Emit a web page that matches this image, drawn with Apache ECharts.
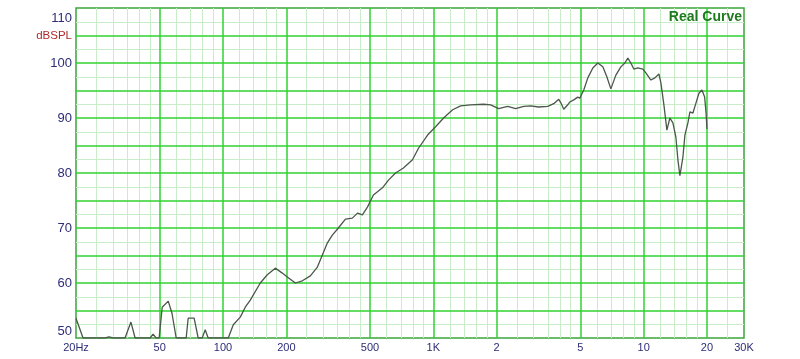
<!DOCTYPE html>
<html>
<head>
<meta charset="utf-8">
<script src="https://cdn.jsdelivr.net/npm/echarts@6/dist/echarts.min.js"></script>
<style>html,body{margin:0;padding:0;background:#fff}#c{width:800px;height:359px}</style>
</head>
<body>
<div id="c"></div>
<script>
// ---- data ----
var freqHz = [20,21.6,27.5,28.7,30,34.2,36.5,38.2,45,46.5,48.1,49.7,51.4,54.9,57.2,59.9,66.8,68.3,72.9,76.2,79.6,82.3,85,105.9,111.9,120.8,127.6,134.8,150.4,162.4,177.3,191.4,202.2,220.8,238.4,260.2,281,296.8,313.6,331,353.6,382,412,436,460,486,519,573,612,661,721,796,850,939,1025,1119,1235,1348,1504,1734,1873,2044,2256,2462,2690,2904,3170,3500,3737,3947,4034,4168,4356,4453,4653,4861,4970,5192,5426,5733,6054,6396,6683,6983,7377,7792,8141,8412,8692,8981,9385,9914,10246,10825,11310,11818,12078,12482,12898,13328,13774,14234,14550,14872,15370,15710,16234,16596,17152,17724,18316,18932,19500,19800,20000];
var splDb = [53.6,50,50,50.2,50,50,52.9,50,50,50.7,50,50,55.6,56.7,54.5,50,50,53.6,53.6,50,50,51.5,50,50,52.4,53.8,55.6,56.9,60,61.5,62.7,61.8,61.1,60,60.4,61.3,62.9,65.1,67.3,68.7,70,71.6,71.8,72.7,72.4,73.8,76,77.3,78.7,80,80.9,82.4,84.5,86.9,88.4,90,91.5,92.2,92.4,92.5,92.4,91.7,92.1,91.7,92.1,92.2,92,92.1,92.6,93.4,92.8,91.6,92.4,92.9,93.3,93.8,93.6,95.1,97.3,99.1,100,99.3,97.5,95.3,97.8,99.3,100,100.9,100,98.9,99.1,98.9,98.2,96.9,97.3,98,96.4,92.4,87.8,90,89.1,86.5,82.4,79.5,82.9,86.9,89.1,91.1,90.9,92.7,94.5,95.1,93.8,90.9,88];

var xTickValues = [20,50,100,200,500,1000,2000,5000,10000,20000,30000];
var xTickLabels = ['20Hz','50','100','200','500','1K','2','5','10','20','30K'];
var xMajorGrid = [50,100,200,500,1000,2000,5000,10000,20000];
var xMinorGrid = [25,30,35,40,45,60,70,80,90,120,140,160,180,250,300,350,400,450,600,700,800,900,1200,1400,1600,1800,2500,3000,3500,4000,4500,6000,7000,8000,9000,12000,14000,16000,18000,25000];
var yMajorGrid = [55,60,65,70,75,80,85,90,95,100,105];
var yMinorGrid = [52.5,57.5,62.5,67.5,72.5,77.5,82.5,87.5,92.5,97.5,102.5,107.5];
var yTickLabels = {50:'50',60:'60',70:'70',80:'80',90:'90',100:'100',105:'dBSPL',110:'110'};
var titleText = 'Real Curve';

// ---- chart ----
var chart = echarts.init(document.getElementById('c'), null, {renderer:'canvas'});
var pts = freqHz.map(function(f,i){return [f, splDb[i]];});
function mlData(xs, ys){
  var d = [];
  xs.forEach(function(v){ d.push({xAxis:v}); });
  ys.forEach(function(v){ d.push({yAxis:v}); });
  return d;
}
var labelMap = {};
xTickValues.forEach(function(v,i){ labelMap[v] = xTickLabels[i]; });

chart.setOption({
  animation:false,
  backgroundColor:'#ffffff',
  grid:{left:76,right:56,top:8,bottom:21,show:true,borderColor:'#3aa53a',borderWidth:1.5,backgroundColor:'transparent'},
  xAxis:{
    type:'log', logBase:10, min:20, max:30000,
    axisLine:{show:false}, axisTick:{show:false}, splitLine:{show:false},
    axisLabel:{
      customValues:xTickValues,
      margin:4, fontSize:11, fontFamily:'Arial, Liberation Sans, sans-serif', color:'#2d2d78',
      formatter:function(v){ var k = Math.round(v); return labelMap[k] !== undefined ? labelMap[k] : ''; }
    }
  },
  yAxis:{
    type:'value', min:50, max:110, interval:5,
    axisLine:{show:false}, axisTick:{show:false}, splitLine:{show:false},
    axisLabel:{
      margin:4, fontSize:13, fontFamily:'Arial, Liberation Sans, sans-serif', color:'#2d2d78',
      verticalAlignMaxLabel:'top', verticalAlignMinLabel:'bottom',
      formatter:function(v){
        var s = yTickLabels[v];
        if (s === undefined) return '';
        if (s === 'dBSPL') return '{r|dBSPL}';
        if (v === 110) return '{t|110}';
        return s;
      },
      rich:{
        r:{color:'#b02a2a',fontSize:11.5,fontFamily:'Arial, Liberation Sans, sans-serif'},
        t:{color:'#2d2d78',fontSize:13,fontFamily:'Arial, Liberation Sans, sans-serif',padding:[4,0,0,0]}
      }
    }
  },
  series:[
    {type:'line', data:[], z:1, silent:true,
     markLine:{silent:true, symbol:'none', label:{show:false}, animation:false,
       lineStyle:{color:'#c9edc9', width:1, type:'solid'}, emphasis:{disabled:true},
       data:mlData(xMinorGrid, yMinorGrid)}},
    {type:'line', data:[], z:2, silent:true,
     markLine:{silent:true, symbol:'none', label:{show:false}, animation:false,
       lineStyle:{color:'#2fd22f', width:1.5, type:'solid'}, emphasis:{disabled:true},
       data:mlData(xMajorGrid, yMajorGrid)}},
    {type:'line', data:pts, z:5, showSymbol:false, smooth:false, clip:true,
     lineStyle:{color:'#4b574b', width:1.3}}
  ],
  graphic:[{type:'text', right:58, top:10, z:10,
    style:{text:titleText, fill:'#1f7a1f', font:'bold 14px Arial, Liberation Sans, sans-serif'}}]
});
</script>
</body>
</html>
